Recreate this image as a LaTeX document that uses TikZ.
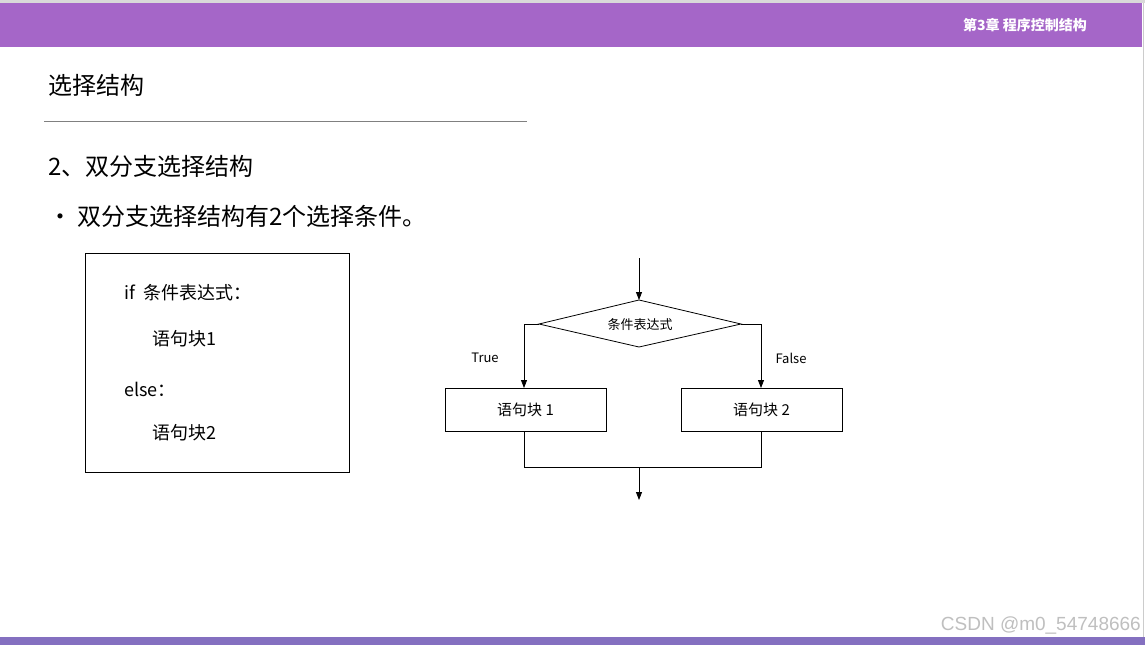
\documentclass[tikz,border=0pt]{standalone}
\usepackage{fontspec}
\setmainfont{Noto Sans CJK SC}
\newfontfamily\cjk{Noto Sans CJK SC}
\usetikzlibrary{arrows.meta}
\definecolor{hdr}{HTML}{A566C8}
\definecolor{ftr}{HTML}{8470C0}
\begin{document}
\begin{tikzpicture}[x=1pt,y=-1pt,
  txt/.style={inner sep=0pt,anchor=west,font=\cjk},
  box/.style={draw,line width=0.8pt,minimum width=161pt,minimum height=43pt,font=\cjk\fontsize{15}{15}\selectfont},
  ln/.style={line width=0.8pt},
  arr/.style={ln,-{Triangle[length=8pt,width=6pt]}}]
\useasboundingbox (0,0) rectangle (1145,645);
\fill[white] (0,0) rectangle (1145,645);
\fill[gray!30] (0,0) rectangle (1145,3);
\fill[hdr] (0,3) rectangle (1142,47);
\fill[ftr] (0,637) rectangle (1145,645);
\draw[gray!40,line width=1pt] (1143,3) -- (1143,637);
\node[inner sep=0pt,anchor=east,text=white,font=\cjk\bfseries\fontsize{14}{14}\selectfont] (hd) at (1087,25) {第3章\ 程序控制结构};
\node[txt,font=\cjk\fontsize{24}{24}\selectfont] (t1) at (48,85) {选择结构};
\draw[gray,line width=0.8pt] (44,121) -- (527,121);
\node[txt,font=\cjk\fontsize{24}{24}\selectfont] (t2) at (48,166) {2、双分支选择结构};
\node[txt,font=\cjk\fontsize{24}{24}\selectfont] (t3) at (48,216) {• 双分支选择结构有2个选择条件。};
\draw[ln] (85,253) rectangle (349,472);
\node[txt,font=\cjk\fontsize{18}{18}\selectfont] (c1) at (124,293) {if\ \ 条件表达式：};
\node[txt,font=\cjk\fontsize{18}{18}\selectfont] (c2) at (152,339) {语句块1};
\node[txt,font=\cjk\fontsize{18}{18}\selectfont] (c3) at (124,389) {else：};
\node[txt,font=\cjk\fontsize{18}{18}\selectfont] (c4) at (152,433) {语句块2};
% flowchart
\coordinate (in) at (639,258);
\coordinate (dt) at (639,300);
\coordinate (dl) at (539,324);
\coordinate (dr) at (741,324);
\coordinate (db) at (639,347);
\draw[ln] (dt) -- (dr) -- (db) -- (dl) -- cycle;
\node[inner sep=0pt,font=\cjk\fontsize{13}{13}\selectfont] (cond) at (640,325) {条件表达式};
\draw[arr] (in) -- (dt);
\node[box] (b1) at (525.5,409.5) {语句块 1};
\node[box] (b2) at (761.5,409.5) {语句块 2};
\draw[arr] (dl) -- (524,324) -- (524,388);
\draw[arr] (dr) -- (761,324) -- (761,388);
\node[inner sep=0pt,font=\cjk\fontsize{13}{13}\selectfont] (tr) at (485,358) {True};
\node[inner sep=0pt,font=\cjk\fontsize{13}{13}\selectfont] (fa) at (791,358) {False};
\coordinate (m) at (639,467);
\coordinate (out) at (639,500);
\draw[ln] (524,431) -- (524,467) -- (761,467) -- (761,431);
\draw[arr] (m) -- (out);
\node[inner sep=0pt,anchor=east,text=gray!50,font=\fontspec{Liberation Sans}\fontsize{19}{19}\selectfont] (wm) at (1141,625) {CSDN @m0\_54748666};
\end{tikzpicture}
\end{document}
